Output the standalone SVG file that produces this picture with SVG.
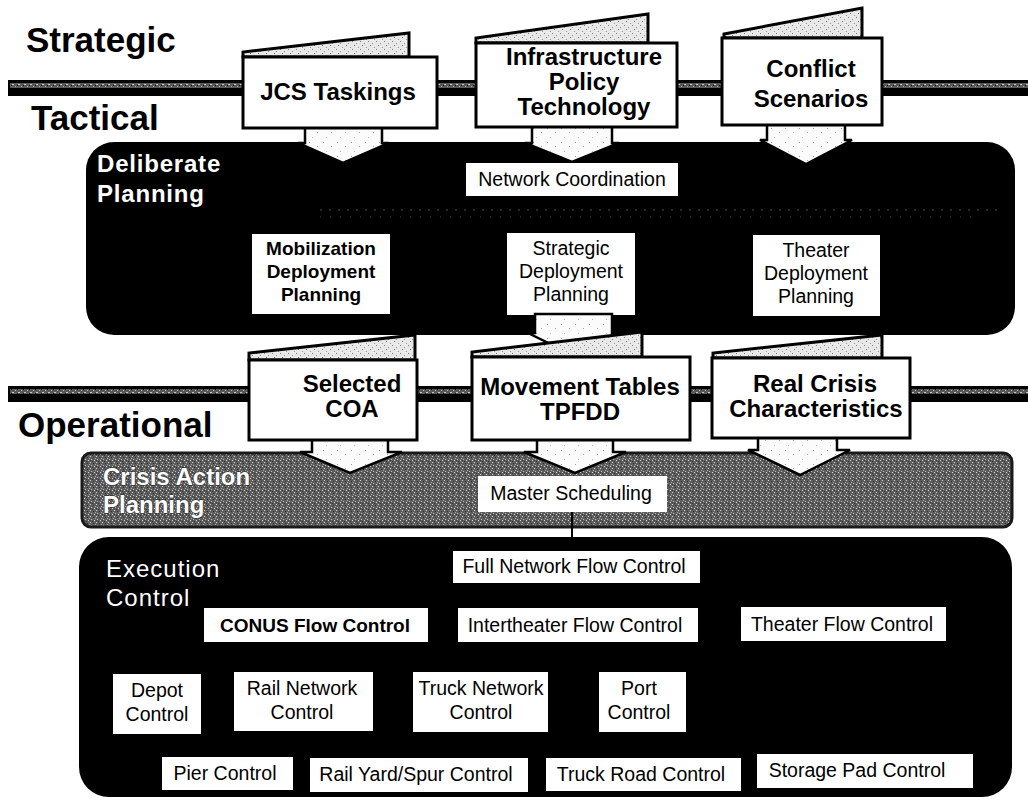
<svg xmlns="http://www.w3.org/2000/svg" width="1028" height="800" viewBox="0 0 1028 800">
<defs>
  <pattern id="stip" width="14" height="14" patternUnits="userSpaceOnUse">
    <rect width="14" height="14" fill="#fbfbfb"/>
    <rect x="1" y="2" width="1" height="1" fill="#9a9a9a"/>
    <rect x="9" y="6" width="1" height="1" fill="#a8a8a8"/>
    <rect x="4" y="11" width="1" height="1" fill="#b8b8b8"/>
  </pattern>
  <pattern id="tab" width="8" height="8" patternUnits="userSpaceOnUse">
    <rect width="8" height="8" fill="#e8e8e8"/>
    <rect x="0" y="1" width="1" height="1" fill="#777"/>
    <rect x="4" y="3" width="1" height="1" fill="#888"/>
    <rect x="2" y="5" width="1" height="1" fill="#666"/>
    <rect x="6" y="7" width="1" height="1" fill="#999"/>
    <rect x="5" y="0" width="1" height="1" fill="#fff"/>
  </pattern>
  <pattern id="gray" width="6" height="6" patternUnits="userSpaceOnUse">
    <rect width="6" height="6" fill="#5e5e5e"/>
    <rect x="0" y="0" width="1" height="1" fill="#cfcfcf"/>
    <rect x="3" y="1" width="1" height="1" fill="#2c2c2c"/>
    <rect x="1" y="3" width="1" height="1" fill="#bdbdbd"/>
    <rect x="4" y="4" width="1" height="1" fill="#d6d6d6"/>
    <rect x="2" y="5" width="1" height="1" fill="#333"/>
    <rect x="5" y="2" width="1" height="1" fill="#a8a8a8"/>
    <rect x="0" y="4" width="1" height="1" fill="#3a3a3a"/>
  </pattern>
  <pattern id="barTex" width="6" height="4" patternUnits="userSpaceOnUse">
    <rect width="6" height="4" fill="#5a5a5a"/>
    <rect x="0" y="0" width="2" height="1" fill="#c8c8c8"/>
    <rect x="3" y="2" width="1" height="1" fill="#b0b0b0"/>
    <rect x="5" y="1" width="1" height="1" fill="#111"/>
  </pattern>
</defs>
<style>
  .lvl{font-family:"Liberation Sans",Arial,sans-serif;font-weight:bold;font-size:35px;fill:#000}
  .big{font-family:"Liberation Sans",Arial,sans-serif;font-weight:bold;font-size:24px;fill:#000;text-anchor:middle}
  .mid{font-family:"Liberation Sans",Arial,sans-serif;font-weight:bold;font-size:19px;fill:#000;text-anchor:middle}
  .reg{font-family:"Liberation Sans",Arial,sans-serif;font-size:19.5px;fill:#000;text-anchor:middle}
  .wt{font-family:"Liberation Sans",Arial,sans-serif;font-weight:bold;font-size:24px;fill:#fff}
  .wr{font-family:"Liberation Sans",Arial,sans-serif;font-size:24px;fill:#fff;letter-spacing:1px}
  .box{fill:#fff;stroke:#000;stroke-width:3}
  .wbox{fill:#fff;stroke:none}
  .tab{fill:url(#tab);stroke:#000;stroke-width:3;stroke-linejoin:miter}
  .arr{fill:url(#stip);stroke:#000;stroke-width:2.5;stroke-linejoin:miter}
</style>
<rect width="1028" height="800" fill="#fff"/>

<!-- level labels -->
<g id="levels">
  <text class="lvl" x="26" y="52">Strategic</text>
  <text class="lvl" x="31" y="130">Tactical</text>
  <text class="lvl" x="18" y="437">Operational</text>
</g>

<!-- horizontal level bars -->
<g id="bars">
  <rect x="8" y="80" width="1020" height="16" fill="#000"/>
  <rect x="10" y="83" width="1018" height="5" fill="url(#barTex)"/>
  <rect x="8" y="386" width="1020" height="16" fill="#000"/>
  <rect x="10" y="389" width="1018" height="5" fill="url(#barTex)"/>
</g>

<!-- Deliberate planning panel -->
<g id="deliberate">
  <rect x="86" y="142" width="929" height="193" rx="28" fill="#000"/>
  <line x1="320" y1="210" x2="1000" y2="210" stroke="#555" stroke-width="1" stroke-dasharray="2 7"/>
  <line x1="320" y1="217" x2="980" y2="217" stroke="#444" stroke-width="1" stroke-dasharray="1 9"/>
  <text class="wt" x="97" y="172" letter-spacing="0.8">Deliberate</text>
  <text class="wt" x="97" y="202" letter-spacing="0.8">Planning</text>
</g>

<!-- Crisis action planning panel -->
<g id="crisis">
  <rect x="82" y="453" width="930" height="74" rx="9" fill="url(#gray)" stroke="#1a1a1a" stroke-width="3"/>
  <text class="wt" x="103" y="485" stroke="#222" stroke-width="0.8" paint-order="stroke">Crisis Action</text>
  <text class="wt" x="103" y="513" stroke="#222" stroke-width="0.8" paint-order="stroke">Planning</text>
</g>

<!-- Execution control panel -->
<g id="execution">
  <rect x="79" y="537" width="933" height="260" rx="30" fill="#000"/>
  <text class="wr" x="106" y="577">Execution</text>
  <text class="wr" x="106" y="606">Control</text>
</g>

<!-- connectors: block arrows and line -->
<g id="connectors">
  <polygon class="arr" points="305,127 305,143 298,143 343,163 389,143 382,143 382,127"/>
  <polygon class="arr" points="532,126 532,143 525,143 572,162 619,143 612,143 612,126"/>
  <polygon class="arr" points="767,124 767,140 760,140 806,164 852,140 845,140 845,124"/>
  <polygon class="arr" points="312,439 312,452 300,452 350,473 402,452 388,452 388,439"/>
  <polygon class="arr" points="537,439 537,452 524,452 575,473 626,452 613,452 613,439"/>
  <polygon class="arr" points="758,437 758,450 748,450 800,475 850,450 837,450 837,437"/>
  <line x1="572" y1="512" x2="572" y2="538" stroke="#000" stroke-width="2"/>
</g>

<!-- strategic input documents -->
<g id="jcs">
  <polygon class="tab" points="243,57 243,52 409,33 409,57"/>
  <rect class="box" x="243" y="57" width="194" height="71"/>
  <text class="big" x="338" y="100">JCS Taskings</text>
</g>
<g id="infrastructure">
  <polygon class="tab" points="476,43 476,38 648,14 648,43"/>
  <rect class="box" x="476" y="43" width="201" height="84"/>
  <text class="big" x="584" y="65" font-size="20">Infrastructure</text>
  <text class="big" x="584" y="90" font-size="20">Policy</text>
  <text class="big" x="584" y="115" font-size="20">Technology</text>
</g>
<g id="conflict">
  <polygon class="tab" points="724,38 724,34 862,8 862,38"/>
  <rect class="box" x="722" y="38" width="160" height="87"/>
  <text class="big" x="811" y="77" font-size="23">Conflict</text>
  <text class="big" x="811" y="107" font-size="23">Scenarios</text>
</g>

<!-- deliberate planning nodes -->
<g id="network-coordination">
  <rect class="wbox" x="466" y="163" width="212" height="33"/>
  <text class="reg" x="572" y="186" font-size="18.5">Network Coordination</text>
</g>
<g id="mobilization">
  <rect class="wbox" x="252" y="234" width="138" height="80"/>
  <text class="mid" x="321" y="255">Mobilization</text>
  <text class="mid" x="321" y="278">Deployment</text>
  <text class="mid" x="321" y="301">Planning</text>
</g>
<g id="strategic-deployment">
  <rect class="wbox" x="507" y="233" width="128" height="82"/>
  <text class="reg" x="571" y="255">Strategic</text>
  <text class="reg" x="571" y="278">Deployment</text>
  <text class="reg" x="571" y="301">Planning</text>
</g>
<g id="theater-deployment">
  <rect class="wbox" x="753" y="235" width="127" height="81"/>
  <text class="reg" x="816" y="257">Theater</text>
  <text class="reg" x="816" y="280">Deployment</text>
  <text class="reg" x="816" y="303">Planning</text>
</g>
<g id="arrow-sdp">
  <polygon class="arr" points="535,314 535,333 528,333 573,355 619,333 612,333 612,314"/>
</g>

<!-- operational documents -->
<g id="selected-coa">
  <polygon class="tab" points="249,360 249,353 415,335 415,360"/>
  <rect class="box" x="249" y="360" width="168" height="80"/>
  <text class="big" x="352" y="392">Selected</text>
  <text class="big" x="352" y="417">COA</text>
</g>
<g id="movement-tables">
  <polygon class="tab" points="472,357 472,352 642,332 642,357"/>
  <rect class="box" x="472" y="357" width="218" height="83"/>
  <text class="big" x="580" y="395">Movement Tables</text>
  <text class="big" x="580" y="420">TPFDD</text>
</g>
<g id="real-crisis">
  <polygon class="tab" points="713,358 713,353 882,335 882,358"/>
  <rect class="box" x="712" y="358" width="198" height="80"/>
  <text class="big" x="815" y="392" font-size="23">Real Crisis</text>
  <text class="big" x="816" y="417" font-size="23">Characteristics</text>
</g>

<g id="master-scheduling">
  <rect class="wbox" x="478" y="476" width="189" height="36"/>
  <text class="reg" x="571" y="500" font-size="18.5">Master Scheduling</text>
</g>

<!-- execution control nodes -->
<g id="full-network">
  <rect class="wbox" x="453" y="551" width="247" height="32"/>
  <text class="reg" x="574" y="573">Full Network Flow Control</text>
</g>
<g id="conus">
  <rect class="wbox" x="204" y="608" width="224" height="34"/>
  <text class="mid" x="315" y="632" font-size="18">CONUS Flow Control</text>
</g>
<g id="intertheater">
  <rect class="wbox" x="458" y="608" width="240" height="34"/>
  <text class="reg" x="575" y="632">Intertheater Flow Control</text>
</g>
<g id="theater-flow">
  <rect class="wbox" x="741" y="607" width="205" height="34"/>
  <text class="reg" x="842" y="631">Theater Flow Control</text>
</g>
<g id="depot">
  <rect class="wbox" x="113" y="674" width="88" height="60"/>
  <text class="reg" x="157" y="697">Depot</text>
  <text class="reg" x="157" y="721">Control</text>
</g>
<g id="rail-network">
  <rect class="wbox" x="234" y="672" width="139" height="59"/>
  <text class="reg" x="302" y="695">Rail Network</text>
  <text class="reg" x="302" y="719">Control</text>
</g>
<g id="truck-network">
  <rect class="wbox" x="413" y="672" width="135" height="60"/>
  <text class="reg" x="481" y="695">Truck Network</text>
  <text class="reg" x="481" y="719">Control</text>
</g>
<g id="port">
  <rect class="wbox" x="599" y="672" width="87" height="60"/>
  <text class="reg" x="639" y="695">Port</text>
  <text class="reg" x="639" y="719">Control</text>
</g>
<g id="pier">
  <rect class="wbox" x="162" y="757" width="131" height="33"/>
  <text class="reg" x="225" y="780">Pier Control</text>
</g>
<g id="rail-yard">
  <rect class="wbox" x="310" y="758" width="218" height="34"/>
  <text class="reg" x="416" y="781">Rail Yard/Spur Control</text>
</g>
<g id="truck-road">
  <rect class="wbox" x="546" y="758" width="195" height="33"/>
  <text class="reg" x="641" y="781">Truck Road Control</text>
</g>
<g id="storage-pad">
  <rect class="wbox" x="757" y="754" width="216" height="34"/>
  <text class="reg" x="857" y="777">Storage Pad Control</text>
</g>
</svg>
